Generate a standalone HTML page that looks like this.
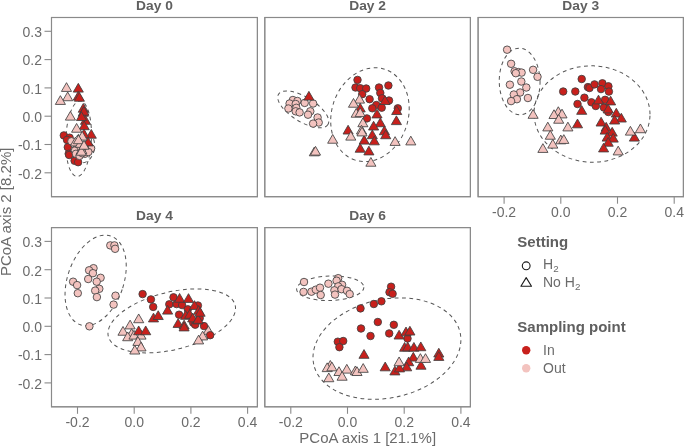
<!DOCTYPE html>
<html><head><meta charset="utf-8"><style>
html,body{margin:0;padding:0;background:#fff;}
svg{display:block;will-change:transform;}
text{font-family:"Liberation Sans",sans-serif;}
.strip{font-weight:bold;font-size:13.8px;fill:#606060;}
.tick{font-size:14px;fill:#6b6b6b;}
.atitle{font-size:15px;fill:#6b6b6b;}
.ltitle{font-weight:bold;font-size:15px;fill:#606060;}
.ltext{font-size:14px;fill:#6b6b6b;}
.sub{font-size:9.8px;}
</style></head><body>
<svg width="685" height="447" viewBox="0 0 685 447">
<rect width="685" height="447" fill="#fff"/>
<rect x="51.5" y="17.5" width="205.9" height="179.2" fill="#fff" stroke="#8a8a8a" stroke-width="1.1"/>
<text transform="translate(154.45 10.00) scale(1 0.92)" text-anchor="middle" class="strip">Day 0</text>
<line x1="44.50" y1="31.30" x2="51.50" y2="31.30" stroke="#8a8a8a" stroke-width="1.1"/>
<text x="42.00" y="37.10" text-anchor="end" class="tick">0.3</text>
<line x1="44.50" y1="59.60" x2="51.50" y2="59.60" stroke="#8a8a8a" stroke-width="1.1"/>
<text x="42.00" y="65.40" text-anchor="end" class="tick">0.2</text>
<line x1="44.50" y1="87.90" x2="51.50" y2="87.90" stroke="#8a8a8a" stroke-width="1.1"/>
<text x="42.00" y="93.70" text-anchor="end" class="tick">0.1</text>
<line x1="44.50" y1="116.20" x2="51.50" y2="116.20" stroke="#8a8a8a" stroke-width="1.1"/>
<text x="42.00" y="122.00" text-anchor="end" class="tick">0.0</text>
<line x1="44.50" y1="144.50" x2="51.50" y2="144.50" stroke="#8a8a8a" stroke-width="1.1"/>
<text x="42.00" y="150.30" text-anchor="end" class="tick">-0.1</text>
<line x1="44.50" y1="172.80" x2="51.50" y2="172.80" stroke="#8a8a8a" stroke-width="1.1"/>
<text x="42.00" y="178.60" text-anchor="end" class="tick">-0.2</text>
<rect x="264.8" y="17.5" width="205.6" height="179.2" fill="#fff" stroke="#8a8a8a" stroke-width="1.1"/>
<text transform="translate(367.60 10.00) scale(1 0.92)" text-anchor="middle" class="strip">Day 2</text>
<rect x="478.1" y="17.5" width="205.3" height="179.2" fill="#fff" stroke="#8a8a8a" stroke-width="1.1"/>
<text transform="translate(580.75 10.00) scale(1 0.92)" text-anchor="middle" class="strip">Day 3</text>
<line x1="504.10" y1="196.70" x2="504.10" y2="203.70" stroke="#8a8a8a" stroke-width="1.1"/>
<text x="504.10" y="216.70" text-anchor="middle" class="tick">-0.2</text>
<line x1="560.80" y1="196.70" x2="560.80" y2="203.70" stroke="#8a8a8a" stroke-width="1.1"/>
<text x="560.80" y="216.70" text-anchor="middle" class="tick">0.0</text>
<line x1="617.50" y1="196.70" x2="617.50" y2="203.70" stroke="#8a8a8a" stroke-width="1.1"/>
<text x="617.50" y="216.70" text-anchor="middle" class="tick">0.2</text>
<line x1="674.20" y1="196.70" x2="674.20" y2="203.70" stroke="#8a8a8a" stroke-width="1.1"/>
<text x="674.20" y="216.70" text-anchor="middle" class="tick">0.4</text>
<rect x="51.5" y="227.6" width="205.9" height="179.2" fill="#fff" stroke="#8a8a8a" stroke-width="1.1"/>
<text transform="translate(154.45 220.10) scale(1 0.92)" text-anchor="middle" class="strip">Day 4</text>
<line x1="77.50" y1="406.80" x2="77.50" y2="413.80" stroke="#8a8a8a" stroke-width="1.1"/>
<text x="77.50" y="426.80" text-anchor="middle" class="tick">-0.2</text>
<line x1="134.20" y1="406.80" x2="134.20" y2="413.80" stroke="#8a8a8a" stroke-width="1.1"/>
<text x="134.20" y="426.80" text-anchor="middle" class="tick">0.0</text>
<line x1="190.90" y1="406.80" x2="190.90" y2="413.80" stroke="#8a8a8a" stroke-width="1.1"/>
<text x="190.90" y="426.80" text-anchor="middle" class="tick">0.2</text>
<line x1="247.60" y1="406.80" x2="247.60" y2="413.80" stroke="#8a8a8a" stroke-width="1.1"/>
<text x="247.60" y="426.80" text-anchor="middle" class="tick">0.4</text>
<line x1="44.50" y1="241.40" x2="51.50" y2="241.40" stroke="#8a8a8a" stroke-width="1.1"/>
<text x="42.00" y="247.20" text-anchor="end" class="tick">0.3</text>
<line x1="44.50" y1="269.70" x2="51.50" y2="269.70" stroke="#8a8a8a" stroke-width="1.1"/>
<text x="42.00" y="275.50" text-anchor="end" class="tick">0.2</text>
<line x1="44.50" y1="298.00" x2="51.50" y2="298.00" stroke="#8a8a8a" stroke-width="1.1"/>
<text x="42.00" y="303.80" text-anchor="end" class="tick">0.1</text>
<line x1="44.50" y1="326.30" x2="51.50" y2="326.30" stroke="#8a8a8a" stroke-width="1.1"/>
<text x="42.00" y="332.10" text-anchor="end" class="tick">0.0</text>
<line x1="44.50" y1="354.60" x2="51.50" y2="354.60" stroke="#8a8a8a" stroke-width="1.1"/>
<text x="42.00" y="360.40" text-anchor="end" class="tick">-0.1</text>
<line x1="44.50" y1="382.90" x2="51.50" y2="382.90" stroke="#8a8a8a" stroke-width="1.1"/>
<text x="42.00" y="388.70" text-anchor="end" class="tick">-0.2</text>
<rect x="264.8" y="227.6" width="205.6" height="179.2" fill="#fff" stroke="#8a8a8a" stroke-width="1.1"/>
<text transform="translate(367.60 220.10) scale(1 0.92)" text-anchor="middle" class="strip">Day 6</text>
<line x1="290.80" y1="406.80" x2="290.80" y2="413.80" stroke="#8a8a8a" stroke-width="1.1"/>
<text x="290.80" y="426.80" text-anchor="middle" class="tick">-0.2</text>
<line x1="347.50" y1="406.80" x2="347.50" y2="413.80" stroke="#8a8a8a" stroke-width="1.1"/>
<text x="347.50" y="426.80" text-anchor="middle" class="tick">0.0</text>
<line x1="404.20" y1="406.80" x2="404.20" y2="413.80" stroke="#8a8a8a" stroke-width="1.1"/>
<text x="404.20" y="426.80" text-anchor="middle" class="tick">0.2</text>
<line x1="460.90" y1="406.80" x2="460.90" y2="413.80" stroke="#8a8a8a" stroke-width="1.1"/>
<text x="460.90" y="426.80" text-anchor="middle" class="tick">0.4</text>
<g>
<ellipse cx="78.6" cy="138.7" rx="12.8" ry="37.8" transform="rotate(2.5 78.6 138.7)" fill="none" stroke="#555" stroke-width="1" stroke-dasharray="3.8 3.5"/>
<ellipse cx="83.5" cy="147.5" rx="11" ry="15.5" transform="rotate(10 83.5 147.5)" fill="none" stroke="#555" stroke-width="1" stroke-dasharray="3.8 3.5"/>
<circle cx="63.80" cy="135.40" r="3.75" fill="#c8201c" stroke="#404040" stroke-width="0.85"/>
<circle cx="69.60" cy="137.70" r="3.75" fill="#c8201c" stroke="#404040" stroke-width="0.85"/>
<circle cx="67.00" cy="139.90" r="3.75" fill="#c8201c" stroke="#404040" stroke-width="0.85"/>
<circle cx="67.80" cy="147.20" r="3.75" fill="#c8201c" stroke="#404040" stroke-width="0.85"/>
<circle cx="68.70" cy="153.80" r="3.75" fill="#c8201c" stroke="#404040" stroke-width="0.85"/>
<circle cx="69.20" cy="155.00" r="3.75" fill="#c8201c" stroke="#404040" stroke-width="0.85"/>
<circle cx="74.60" cy="160.80" r="3.75" fill="#c8201c" stroke="#404040" stroke-width="0.85"/>
<circle cx="78.10" cy="162.20" r="3.75" fill="#c8201c" stroke="#404040" stroke-width="0.85"/>
<circle cx="71.40" cy="141.30" r="3.75" fill="#f3c3bf" stroke="#404040" stroke-width="0.85"/>
<circle cx="89.30" cy="146.60" r="3.75" fill="#f3c3bf" stroke="#404040" stroke-width="0.85"/>
<circle cx="91.10" cy="148.40" r="3.75" fill="#f3c3bf" stroke="#404040" stroke-width="0.85"/>
<circle cx="84.80" cy="147.50" r="3.75" fill="#f3c3bf" stroke="#404040" stroke-width="0.85"/>
<circle cx="75.90" cy="149.30" r="3.75" fill="#f3c3bf" stroke="#404040" stroke-width="0.85"/>
<circle cx="75.00" cy="150.50" r="3.75" fill="#f3c3bf" stroke="#404040" stroke-width="0.85"/>
<circle cx="75.90" cy="153.80" r="3.75" fill="#f3c3bf" stroke="#404040" stroke-width="0.85"/>
<circle cx="84.80" cy="153.80" r="3.75" fill="#f3c3bf" stroke="#404040" stroke-width="0.85"/>
<circle cx="88.40" cy="152.00" r="3.75" fill="#f3c3bf" stroke="#404040" stroke-width="0.85"/>
<circle cx="79.50" cy="155.90" r="3.75" fill="#f3c3bf" stroke="#404040" stroke-width="0.85"/>
<circle cx="82.20" cy="153.20" r="3.75" fill="#f3c3bf" stroke="#404040" stroke-width="0.85"/>
<circle cx="80.50" cy="147.00" r="3.75" fill="#f3c3bf" stroke="#404040" stroke-width="0.85"/>
<path d="M78.30 83.37L83.35 92.12L73.25 92.12Z" fill="#c8201c" stroke="#404040" stroke-width="0.85" stroke-linejoin="round"/>
<path d="M78.30 91.37L83.35 100.12L73.25 100.12Z" fill="#c8201c" stroke="#404040" stroke-width="0.85" stroke-linejoin="round"/>
<path d="M79.40 92.47L84.45 101.22L74.35 101.22Z" fill="#c8201c" stroke="#404040" stroke-width="0.85" stroke-linejoin="round"/>
<path d="M83.30 103.47L88.35 112.22L78.25 112.22Z" fill="#c8201c" stroke="#404040" stroke-width="0.85" stroke-linejoin="round"/>
<path d="M83.30 107.47L88.35 116.22L78.25 116.22Z" fill="#c8201c" stroke="#404040" stroke-width="0.85" stroke-linejoin="round"/>
<path d="M83.90 106.47L88.95 115.22L78.85 115.22Z" fill="#c8201c" stroke="#404040" stroke-width="0.85" stroke-linejoin="round"/>
<path d="M85.50 115.57L90.55 124.32L80.45 124.32Z" fill="#c8201c" stroke="#404040" stroke-width="0.85" stroke-linejoin="round"/>
<path d="M84.20 120.97L89.25 129.72L79.15 129.72Z" fill="#c8201c" stroke="#404040" stroke-width="0.85" stroke-linejoin="round"/>
<path d="M81.50 111.77L86.55 120.52L76.45 120.52Z" fill="#c8201c" stroke="#404040" stroke-width="0.85" stroke-linejoin="round"/>
<path d="M91.30 129.47L96.35 138.22L86.25 138.22Z" fill="#c8201c" stroke="#404040" stroke-width="0.85" stroke-linejoin="round"/>
<path d="M84.00 129.17L89.05 137.92L78.95 137.92Z" fill="#c8201c" stroke="#404040" stroke-width="0.85" stroke-linejoin="round"/>
<path d="M88.00 137.17L93.05 145.92L82.95 145.92Z" fill="#c8201c" stroke="#404040" stroke-width="0.85" stroke-linejoin="round"/>
<path d="M66.50 82.67L71.55 91.42L61.45 91.42Z" fill="#f3c3bf" stroke="#404040" stroke-width="0.85" stroke-linejoin="round"/>
<path d="M67.70 91.97L72.75 100.72L62.65 100.72Z" fill="#f3c3bf" stroke="#404040" stroke-width="0.85" stroke-linejoin="round"/>
<path d="M60.40 95.67L65.45 104.42L55.35 104.42Z" fill="#f3c3bf" stroke="#404040" stroke-width="0.85" stroke-linejoin="round"/>
<path d="M70.40 111.37L75.45 120.12L65.35 120.12Z" fill="#f3c3bf" stroke="#404040" stroke-width="0.85" stroke-linejoin="round"/>
<path d="M76.60 123.47L81.65 132.22L71.55 132.22Z" fill="#f3c3bf" stroke="#404040" stroke-width="0.85" stroke-linejoin="round"/>
<path d="M82.20 131.37L87.25 140.12L77.15 140.12Z" fill="#f3c3bf" stroke="#404040" stroke-width="0.85" stroke-linejoin="round"/>
<path d="M75.40 137.17L80.45 145.92L70.35 145.92Z" fill="#f3c3bf" stroke="#404040" stroke-width="0.85" stroke-linejoin="round"/>
<path d="M80.40 138.57L85.45 147.32L75.35 147.32Z" fill="#f3c3bf" stroke="#404040" stroke-width="0.85" stroke-linejoin="round"/>
<path d="M81.70 144.77L86.75 153.52L76.65 153.52Z" fill="#f3c3bf" stroke="#404040" stroke-width="0.85" stroke-linejoin="round"/>
<path d="M81.30 146.47L86.35 155.22L76.25 155.22Z" fill="#f3c3bf" stroke="#404040" stroke-width="0.85" stroke-linejoin="round"/>
<path d="M78.50 134.97L83.55 143.72L73.45 143.72Z" fill="#f3c3bf" stroke="#404040" stroke-width="0.85" stroke-linejoin="round"/>
<path d="M84.00 140.47L89.05 149.22L78.95 149.22Z" fill="#f3c3bf" stroke="#404040" stroke-width="0.85" stroke-linejoin="round"/>
</g>
<g>
<ellipse cx="303.25" cy="109.4" rx="29" ry="12.3" transform="rotate(31.6 303.25 109.4)" fill="none" stroke="#555" stroke-width="1" stroke-dasharray="3.8 3.5"/>
<ellipse cx="369.95" cy="114.7" rx="47.75" ry="38.25" transform="rotate(108 369.95 114.7)" fill="none" stroke="#555" stroke-width="1" stroke-dasharray="3.8 3.5"/>
<circle cx="292.90" cy="100.00" r="3.75" fill="#f3c3bf" stroke="#404040" stroke-width="0.85"/>
<circle cx="297.40" cy="101.00" r="3.75" fill="#f3c3bf" stroke="#404040" stroke-width="0.85"/>
<circle cx="289.60" cy="103.50" r="3.75" fill="#f3c3bf" stroke="#404040" stroke-width="0.85"/>
<circle cx="295.70" cy="104.00" r="3.75" fill="#f3c3bf" stroke="#404040" stroke-width="0.85"/>
<circle cx="304.70" cy="102.90" r="3.75" fill="#f3c3bf" stroke="#404040" stroke-width="0.85"/>
<circle cx="313.10" cy="103.50" r="3.75" fill="#f3c3bf" stroke="#404040" stroke-width="0.85"/>
<circle cx="288.40" cy="108.50" r="3.75" fill="#f3c3bf" stroke="#404040" stroke-width="0.85"/>
<circle cx="296.30" cy="107.80" r="3.75" fill="#f3c3bf" stroke="#404040" stroke-width="0.85"/>
<circle cx="295.70" cy="111.30" r="3.75" fill="#f3c3bf" stroke="#404040" stroke-width="0.85"/>
<circle cx="299.60" cy="112.40" r="3.75" fill="#f3c3bf" stroke="#404040" stroke-width="0.85"/>
<circle cx="310.30" cy="111.30" r="3.75" fill="#f3c3bf" stroke="#404040" stroke-width="0.85"/>
<circle cx="308.00" cy="114.70" r="3.75" fill="#f3c3bf" stroke="#404040" stroke-width="0.85"/>
<circle cx="317.60" cy="117.50" r="3.75" fill="#f3c3bf" stroke="#404040" stroke-width="0.85"/>
<circle cx="318.70" cy="122.50" r="3.75" fill="#f3c3bf" stroke="#404040" stroke-width="0.85"/>
<circle cx="313.10" cy="123.60" r="3.75" fill="#f3c3bf" stroke="#404040" stroke-width="0.85"/>
<path d="M308.90 91.37L313.95 100.12L303.85 100.12Z" fill="#c8201c" stroke="#404040" stroke-width="0.85" stroke-linejoin="round"/>
<circle cx="357.50" cy="79.90" r="3.75" fill="#c8201c" stroke="#404040" stroke-width="0.85"/>
<circle cx="355.50" cy="87.50" r="3.75" fill="#c8201c" stroke="#404040" stroke-width="0.85"/>
<circle cx="360.20" cy="88.20" r="3.75" fill="#c8201c" stroke="#404040" stroke-width="0.85"/>
<circle cx="366.20" cy="88.50" r="3.75" fill="#c8201c" stroke="#404040" stroke-width="0.85"/>
<circle cx="362.20" cy="94.20" r="3.75" fill="#c8201c" stroke="#404040" stroke-width="0.85"/>
<circle cx="379.00" cy="87.50" r="3.75" fill="#c8201c" stroke="#404040" stroke-width="0.85"/>
<circle cx="388.40" cy="85.50" r="3.75" fill="#c8201c" stroke="#404040" stroke-width="0.85"/>
<circle cx="380.30" cy="92.90" r="3.75" fill="#c8201c" stroke="#404040" stroke-width="0.85"/>
<circle cx="369.60" cy="99.20" r="3.75" fill="#c8201c" stroke="#404040" stroke-width="0.85"/>
<circle cx="389.00" cy="100.50" r="3.75" fill="#c8201c" stroke="#404040" stroke-width="0.85"/>
<circle cx="382.00" cy="98.30" r="3.75" fill="#c8201c" stroke="#404040" stroke-width="0.85"/>
<circle cx="376.30" cy="105.00" r="3.75" fill="#c8201c" stroke="#404040" stroke-width="0.85"/>
<circle cx="372.30" cy="108.30" r="3.75" fill="#c8201c" stroke="#404040" stroke-width="0.85"/>
<circle cx="381.70" cy="107.70" r="3.75" fill="#c8201c" stroke="#404040" stroke-width="0.85"/>
<circle cx="397.80" cy="108.30" r="3.75" fill="#c8201c" stroke="#404040" stroke-width="0.85"/>
<circle cx="366.90" cy="118.40" r="3.75" fill="#c8201c" stroke="#404040" stroke-width="0.85"/>
<path d="M385.00 95.77L390.05 104.52L379.95 104.52Z" fill="#c8201c" stroke="#404040" stroke-width="0.85" stroke-linejoin="round"/>
<path d="M377.00 109.17L382.05 117.92L371.95 117.92Z" fill="#c8201c" stroke="#404040" stroke-width="0.85" stroke-linejoin="round"/>
<path d="M396.70 105.77L401.75 114.52L391.65 114.52Z" fill="#c8201c" stroke="#404040" stroke-width="0.85" stroke-linejoin="round"/>
<path d="M360.20 103.17L365.25 111.92L355.15 111.92Z" fill="#c8201c" stroke="#404040" stroke-width="0.85" stroke-linejoin="round"/>
<path d="M396.40 115.87L401.45 124.62L391.35 124.62Z" fill="#c8201c" stroke="#404040" stroke-width="0.85" stroke-linejoin="round"/>
<path d="M380.30 117.97L385.35 126.72L375.25 126.72Z" fill="#c8201c" stroke="#404040" stroke-width="0.85" stroke-linejoin="round"/>
<path d="M373.60 121.27L378.65 130.02L368.55 130.02Z" fill="#c8201c" stroke="#404040" stroke-width="0.85" stroke-linejoin="round"/>
<path d="M348.10 125.27L353.15 134.02L343.05 134.02Z" fill="#c8201c" stroke="#404040" stroke-width="0.85" stroke-linejoin="round"/>
<path d="M384.40 125.97L389.45 134.72L379.35 134.72Z" fill="#c8201c" stroke="#404040" stroke-width="0.85" stroke-linejoin="round"/>
<path d="M372.30 129.97L377.35 138.72L367.25 138.72Z" fill="#c8201c" stroke="#404040" stroke-width="0.85" stroke-linejoin="round"/>
<path d="M385.70 129.97L390.75 138.72L380.65 138.72Z" fill="#c8201c" stroke="#404040" stroke-width="0.85" stroke-linejoin="round"/>
<path d="M364.20 135.37L369.25 144.12L359.15 144.12Z" fill="#c8201c" stroke="#404040" stroke-width="0.85" stroke-linejoin="round"/>
<path d="M374.30 136.07L379.35 144.82L369.25 144.82Z" fill="#c8201c" stroke="#404040" stroke-width="0.85" stroke-linejoin="round"/>
<path d="M360.20 143.47L365.25 152.22L355.15 152.22Z" fill="#c8201c" stroke="#404040" stroke-width="0.85" stroke-linejoin="round"/>
<path d="M368.90 146.17L373.95 154.92L363.85 154.92Z" fill="#c8201c" stroke="#404040" stroke-width="0.85" stroke-linejoin="round"/>
<path d="M359.50 94.37L364.55 103.12L354.45 103.12Z" fill="#f3c3bf" stroke="#404040" stroke-width="0.85" stroke-linejoin="round"/>
<path d="M353.50 98.47L358.55 107.22L348.45 107.22Z" fill="#f3c3bf" stroke="#404040" stroke-width="0.85" stroke-linejoin="round"/>
<path d="M356.20 108.47L361.25 117.22L351.15 117.22Z" fill="#f3c3bf" stroke="#404040" stroke-width="0.85" stroke-linejoin="round"/>
<path d="M360.20 107.87L365.25 116.62L355.15 116.62Z" fill="#f3c3bf" stroke="#404040" stroke-width="0.85" stroke-linejoin="round"/>
<path d="M362.90 117.97L367.95 126.72L357.85 126.72Z" fill="#f3c3bf" stroke="#404040" stroke-width="0.85" stroke-linejoin="round"/>
<path d="M361.50 125.27L366.55 134.02L356.45 134.02Z" fill="#f3c3bf" stroke="#404040" stroke-width="0.85" stroke-linejoin="round"/>
<path d="M362.00 127.17L367.05 135.92L356.95 135.92Z" fill="#f3c3bf" stroke="#404040" stroke-width="0.85" stroke-linejoin="round"/>
<path d="M350.80 131.37L355.85 140.12L345.75 140.12Z" fill="#f3c3bf" stroke="#404040" stroke-width="0.85" stroke-linejoin="round"/>
<path d="M395.10 136.67L400.15 145.42L390.05 145.42Z" fill="#f3c3bf" stroke="#404040" stroke-width="0.85" stroke-linejoin="round"/>
<path d="M332.70 134.47L337.75 143.22L327.65 143.22Z" fill="#f3c3bf" stroke="#404040" stroke-width="0.85" stroke-linejoin="round"/>
<path d="M370.90 157.47L375.95 166.22L365.85 166.22Z" fill="#f3c3bf" stroke="#404040" stroke-width="0.85" stroke-linejoin="round"/>
<path d="M410.80 136.17L415.85 144.92L405.75 144.92Z" fill="#f3c3bf" stroke="#404040" stroke-width="0.85" stroke-linejoin="round"/>
<path d="M314.30 147.07L319.35 155.82L309.25 155.82Z" fill="#f3c3bf" stroke="#404040" stroke-width="0.85" stroke-linejoin="round"/>
<path d="M315.50 146.37L320.55 155.12L310.45 155.12Z" fill="#f3c3bf" stroke="#404040" stroke-width="0.85" stroke-linejoin="round"/>
</g>
<g>
<ellipse cx="519.65" cy="81.5" rx="20.4" ry="33.35" transform="rotate(-1 519.65 81.5)" fill="none" stroke="#555" stroke-width="1" stroke-dasharray="3.8 3.5"/>
<ellipse cx="592" cy="114" rx="58" ry="48.2" transform="rotate(1.7 592 114)" fill="none" stroke="#555" stroke-width="1" stroke-dasharray="3.8 3.5"/>
<circle cx="507.10" cy="49.70" r="3.75" fill="#f3c3bf" stroke="#404040" stroke-width="0.85"/>
<circle cx="511.10" cy="63.80" r="3.75" fill="#f3c3bf" stroke="#404040" stroke-width="0.85"/>
<circle cx="514.60" cy="71.30" r="3.75" fill="#f3c3bf" stroke="#404040" stroke-width="0.85"/>
<circle cx="518.50" cy="72.10" r="3.75" fill="#f3c3bf" stroke="#404040" stroke-width="0.85"/>
<circle cx="521.60" cy="72.60" r="3.75" fill="#f3c3bf" stroke="#404040" stroke-width="0.85"/>
<circle cx="515.80" cy="73.20" r="3.75" fill="#f3c3bf" stroke="#404040" stroke-width="0.85"/>
<circle cx="533.10" cy="69.80" r="3.75" fill="#f3c3bf" stroke="#404040" stroke-width="0.85"/>
<circle cx="537.50" cy="76.80" r="3.75" fill="#f3c3bf" stroke="#404040" stroke-width="0.85"/>
<circle cx="509.90" cy="84.70" r="3.75" fill="#f3c3bf" stroke="#404040" stroke-width="0.85"/>
<circle cx="521.30" cy="81.50" r="3.75" fill="#f3c3bf" stroke="#404040" stroke-width="0.85"/>
<circle cx="526.30" cy="87.50" r="3.75" fill="#f3c3bf" stroke="#404040" stroke-width="0.85"/>
<circle cx="520.10" cy="92.50" r="3.75" fill="#f3c3bf" stroke="#404040" stroke-width="0.85"/>
<circle cx="513.80" cy="94.50" r="3.75" fill="#f3c3bf" stroke="#404040" stroke-width="0.85"/>
<circle cx="516.90" cy="99.20" r="3.75" fill="#f3c3bf" stroke="#404040" stroke-width="0.85"/>
<circle cx="511.10" cy="101.10" r="3.75" fill="#f3c3bf" stroke="#404040" stroke-width="0.85"/>
<circle cx="527.90" cy="98.00" r="3.75" fill="#f3c3bf" stroke="#404040" stroke-width="0.85"/>
<circle cx="563.20" cy="91.50" r="3.75" fill="#c8201c" stroke="#404040" stroke-width="0.85"/>
<circle cx="575.30" cy="91.50" r="3.75" fill="#c8201c" stroke="#404040" stroke-width="0.85"/>
<circle cx="581.70" cy="79.00" r="3.75" fill="#c8201c" stroke="#404040" stroke-width="0.85"/>
<circle cx="587.90" cy="87.10" r="3.75" fill="#c8201c" stroke="#404040" stroke-width="0.85"/>
<circle cx="589.50" cy="88.00" r="3.75" fill="#c8201c" stroke="#404040" stroke-width="0.85"/>
<circle cx="594.50" cy="84.40" r="3.75" fill="#c8201c" stroke="#404040" stroke-width="0.85"/>
<circle cx="602.40" cy="83.30" r="3.75" fill="#c8201c" stroke="#404040" stroke-width="0.85"/>
<circle cx="608.40" cy="86.30" r="3.75" fill="#c8201c" stroke="#404040" stroke-width="0.85"/>
<circle cx="601.00" cy="89.10" r="3.75" fill="#c8201c" stroke="#404040" stroke-width="0.85"/>
<circle cx="608.90" cy="91.60" r="3.75" fill="#c8201c" stroke="#404040" stroke-width="0.85"/>
<circle cx="584.40" cy="97.70" r="3.75" fill="#c8201c" stroke="#404040" stroke-width="0.85"/>
<circle cx="577.50" cy="104.00" r="3.75" fill="#c8201c" stroke="#404040" stroke-width="0.85"/>
<circle cx="591.40" cy="102.30" r="3.75" fill="#c8201c" stroke="#404040" stroke-width="0.85"/>
<circle cx="595.80" cy="106.00" r="3.75" fill="#c8201c" stroke="#404040" stroke-width="0.85"/>
<circle cx="605.10" cy="99.80" r="3.75" fill="#c8201c" stroke="#404040" stroke-width="0.85"/>
<circle cx="603.90" cy="107.60" r="3.75" fill="#c8201c" stroke="#404040" stroke-width="0.85"/>
<circle cx="608.30" cy="112.00" r="3.75" fill="#c8201c" stroke="#404040" stroke-width="0.85"/>
<path d="M581.70 105.57L586.75 114.32L576.65 114.32Z" fill="#c8201c" stroke="#404040" stroke-width="0.85" stroke-linejoin="round"/>
<path d="M577.50 119.07L582.55 127.82L572.45 127.82Z" fill="#c8201c" stroke="#404040" stroke-width="0.85" stroke-linejoin="round"/>
<path d="M598.50 95.17L603.55 103.92L593.45 103.92Z" fill="#c8201c" stroke="#404040" stroke-width="0.85" stroke-linejoin="round"/>
<path d="M610.60 96.17L615.65 104.92L605.55 104.92Z" fill="#c8201c" stroke="#404040" stroke-width="0.85" stroke-linejoin="round"/>
<path d="M608.20 104.17L613.25 112.92L603.15 112.92Z" fill="#c8201c" stroke="#404040" stroke-width="0.85" stroke-linejoin="round"/>
<path d="M616.30 108.27L621.35 117.02L611.25 117.02Z" fill="#c8201c" stroke="#404040" stroke-width="0.85" stroke-linejoin="round"/>
<path d="M621.30 113.27L626.35 122.02L616.25 122.02Z" fill="#c8201c" stroke="#404040" stroke-width="0.85" stroke-linejoin="round"/>
<path d="M614.60 115.27L619.65 124.02L609.55 124.02Z" fill="#c8201c" stroke="#404040" stroke-width="0.85" stroke-linejoin="round"/>
<path d="M601.10 117.27L606.15 126.02L596.05 126.02Z" fill="#c8201c" stroke="#404040" stroke-width="0.85" stroke-linejoin="round"/>
<path d="M606.20 122.37L611.25 131.12L601.15 131.12Z" fill="#c8201c" stroke="#404040" stroke-width="0.85" stroke-linejoin="round"/>
<path d="M605.20 125.37L610.25 134.12L600.15 134.12Z" fill="#c8201c" stroke="#404040" stroke-width="0.85" stroke-linejoin="round"/>
<path d="M612.20 127.37L617.25 136.12L607.15 136.12Z" fill="#c8201c" stroke="#404040" stroke-width="0.85" stroke-linejoin="round"/>
<path d="M607.20 132.37L612.25 141.12L602.15 141.12Z" fill="#c8201c" stroke="#404040" stroke-width="0.85" stroke-linejoin="round"/>
<path d="M613.20 133.37L618.25 142.12L608.15 142.12Z" fill="#c8201c" stroke="#404040" stroke-width="0.85" stroke-linejoin="round"/>
<path d="M608.20 137.47L613.25 146.22L603.15 146.22Z" fill="#c8201c" stroke="#404040" stroke-width="0.85" stroke-linejoin="round"/>
<path d="M603.60 143.17L608.65 151.92L598.55 151.92Z" fill="#c8201c" stroke="#404040" stroke-width="0.85" stroke-linejoin="round"/>
<path d="M634.40 132.37L639.45 141.12L629.35 141.12Z" fill="#c8201c" stroke="#404040" stroke-width="0.85" stroke-linejoin="round"/>
<path d="M533.10 109.57L538.15 118.32L528.05 118.32Z" fill="#f3c3bf" stroke="#404040" stroke-width="0.85" stroke-linejoin="round"/>
<path d="M558.30 106.77L563.35 115.52L553.25 115.52Z" fill="#f3c3bf" stroke="#404040" stroke-width="0.85" stroke-linejoin="round"/>
<path d="M554.00 109.77L559.05 118.52L548.95 118.52Z" fill="#f3c3bf" stroke="#404040" stroke-width="0.85" stroke-linejoin="round"/>
<path d="M562.00 109.17L567.05 117.92L556.95 117.92Z" fill="#f3c3bf" stroke="#404040" stroke-width="0.85" stroke-linejoin="round"/>
<path d="M558.70 114.47L563.75 123.22L553.65 123.22Z" fill="#f3c3bf" stroke="#404040" stroke-width="0.85" stroke-linejoin="round"/>
<path d="M547.80 122.17L552.85 130.92L542.75 130.92Z" fill="#f3c3bf" stroke="#404040" stroke-width="0.85" stroke-linejoin="round"/>
<path d="M567.90 122.17L572.95 130.92L562.85 130.92Z" fill="#f3c3bf" stroke="#404040" stroke-width="0.85" stroke-linejoin="round"/>
<path d="M550.30 130.47L555.35 139.22L545.25 139.22Z" fill="#f3c3bf" stroke="#404040" stroke-width="0.85" stroke-linejoin="round"/>
<path d="M560.80 135.07L565.85 143.82L555.75 143.82Z" fill="#f3c3bf" stroke="#404040" stroke-width="0.85" stroke-linejoin="round"/>
<path d="M563.80 134.67L568.85 143.42L558.75 143.42Z" fill="#f3c3bf" stroke="#404040" stroke-width="0.85" stroke-linejoin="round"/>
<path d="M552.80 139.37L557.85 148.12L547.75 148.12Z" fill="#f3c3bf" stroke="#404040" stroke-width="0.85" stroke-linejoin="round"/>
<path d="M542.90 143.67L547.95 152.42L537.85 152.42Z" fill="#f3c3bf" stroke="#404040" stroke-width="0.85" stroke-linejoin="round"/>
<path d="M630.40 126.37L635.45 135.12L625.35 135.12Z" fill="#f3c3bf" stroke="#404040" stroke-width="0.85" stroke-linejoin="round"/>
<path d="M640.40 123.97L645.45 132.72L635.35 132.72Z" fill="#f3c3bf" stroke="#404040" stroke-width="0.85" stroke-linejoin="round"/>
<path d="M618.20 146.17L623.25 154.92L613.15 154.92Z" fill="#f3c3bf" stroke="#404040" stroke-width="0.85" stroke-linejoin="round"/>
</g>
<g>
<ellipse cx="95.64" cy="280.4" rx="28.07" ry="46.92" transform="rotate(18.9 95.64 280.4)" fill="none" stroke="#555" stroke-width="1" stroke-dasharray="3.8 3.5"/>
<ellipse cx="171.76" cy="320.89" rx="65.32" ry="28.79" transform="rotate(-13.8 171.76 320.89)" fill="none" stroke="#555" stroke-width="1" stroke-dasharray="3.8 3.5"/>
<circle cx="110.30" cy="245.40" r="3.75" fill="#f3c3bf" stroke="#404040" stroke-width="0.85"/>
<circle cx="114.40" cy="245.40" r="3.75" fill="#f3c3bf" stroke="#404040" stroke-width="0.85"/>
<circle cx="115.10" cy="248.80" r="3.75" fill="#f3c3bf" stroke="#404040" stroke-width="0.85"/>
<circle cx="93.50" cy="268.20" r="3.75" fill="#f3c3bf" stroke="#404040" stroke-width="0.85"/>
<circle cx="89.10" cy="270.30" r="3.75" fill="#f3c3bf" stroke="#404040" stroke-width="0.85"/>
<circle cx="92.90" cy="273.20" r="3.75" fill="#f3c3bf" stroke="#404040" stroke-width="0.85"/>
<circle cx="88.20" cy="279.00" r="3.75" fill="#f3c3bf" stroke="#404040" stroke-width="0.85"/>
<circle cx="100.60" cy="277.80" r="3.75" fill="#f3c3bf" stroke="#404040" stroke-width="0.85"/>
<circle cx="96.70" cy="281.70" r="3.75" fill="#f3c3bf" stroke="#404040" stroke-width="0.85"/>
<circle cx="73.10" cy="281.70" r="3.75" fill="#f3c3bf" stroke="#404040" stroke-width="0.85"/>
<circle cx="77.10" cy="285.10" r="3.75" fill="#f3c3bf" stroke="#404040" stroke-width="0.85"/>
<circle cx="99.30" cy="288.80" r="3.75" fill="#f3c3bf" stroke="#404040" stroke-width="0.85"/>
<circle cx="95.20" cy="290.60" r="3.75" fill="#f3c3bf" stroke="#404040" stroke-width="0.85"/>
<circle cx="96.90" cy="297.10" r="3.75" fill="#f3c3bf" stroke="#404040" stroke-width="0.85"/>
<circle cx="77.80" cy="293.20" r="3.75" fill="#f3c3bf" stroke="#404040" stroke-width="0.85"/>
<circle cx="115.50" cy="295.70" r="3.75" fill="#f3c3bf" stroke="#404040" stroke-width="0.85"/>
<circle cx="113.60" cy="304.60" r="3.75" fill="#f3c3bf" stroke="#404040" stroke-width="0.85"/>
<circle cx="89.40" cy="326.30" r="3.75" fill="#f3c3bf" stroke="#404040" stroke-width="0.85"/>
<path d="M138.70 313.97L143.75 322.72L133.65 322.72Z" fill="#f3c3bf" stroke="#404040" stroke-width="0.85" stroke-linejoin="round"/>
<path d="M130.10 320.17L135.15 328.92L125.05 328.92Z" fill="#f3c3bf" stroke="#404040" stroke-width="0.85" stroke-linejoin="round"/>
<path d="M123.00 326.47L128.05 335.22L117.95 335.22Z" fill="#f3c3bf" stroke="#404040" stroke-width="0.85" stroke-linejoin="round"/>
<path d="M131.60 328.77L136.65 337.52L126.55 337.52Z" fill="#f3c3bf" stroke="#404040" stroke-width="0.85" stroke-linejoin="round"/>
<path d="M127.70 331.97L132.75 340.72L122.65 340.72Z" fill="#f3c3bf" stroke="#404040" stroke-width="0.85" stroke-linejoin="round"/>
<path d="M134.00 330.37L139.05 339.12L128.95 339.12Z" fill="#f3c3bf" stroke="#404040" stroke-width="0.85" stroke-linejoin="round"/>
<path d="M141.00 330.37L146.05 339.12L135.95 339.12Z" fill="#f3c3bf" stroke="#404040" stroke-width="0.85" stroke-linejoin="round"/>
<path d="M137.90 336.67L142.95 345.42L132.85 345.42Z" fill="#f3c3bf" stroke="#404040" stroke-width="0.85" stroke-linejoin="round"/>
<path d="M141.00 342.17L146.05 350.92L135.95 350.92Z" fill="#f3c3bf" stroke="#404040" stroke-width="0.85" stroke-linejoin="round"/>
<path d="M134.80 345.27L139.85 354.02L129.75 354.02Z" fill="#f3c3bf" stroke="#404040" stroke-width="0.85" stroke-linejoin="round"/>
<path d="M208.20 325.57L213.25 334.32L203.15 334.32Z" fill="#f3c3bf" stroke="#404040" stroke-width="0.85" stroke-linejoin="round"/>
<path d="M202.60 331.17L207.65 339.92L197.55 339.92Z" fill="#f3c3bf" stroke="#404040" stroke-width="0.85" stroke-linejoin="round"/>
<path d="M198.60 335.17L203.65 343.92L193.55 343.92Z" fill="#f3c3bf" stroke="#404040" stroke-width="0.85" stroke-linejoin="round"/>
<circle cx="142.60" cy="294.10" r="3.75" fill="#c8201c" stroke="#404040" stroke-width="0.85"/>
<circle cx="150.90" cy="299.40" r="3.75" fill="#c8201c" stroke="#404040" stroke-width="0.85"/>
<circle cx="153.20" cy="306.90" r="3.75" fill="#c8201c" stroke="#404040" stroke-width="0.85"/>
<circle cx="173.50" cy="297.30" r="3.75" fill="#c8201c" stroke="#404040" stroke-width="0.85"/>
<circle cx="169.30" cy="304.30" r="3.75" fill="#c8201c" stroke="#404040" stroke-width="0.85"/>
<circle cx="176.60" cy="304.10" r="3.75" fill="#c8201c" stroke="#404040" stroke-width="0.85"/>
<circle cx="182.10" cy="305.10" r="3.75" fill="#c8201c" stroke="#404040" stroke-width="0.85"/>
<circle cx="179.10" cy="314.70" r="3.75" fill="#c8201c" stroke="#404040" stroke-width="0.85"/>
<circle cx="197.90" cy="305.50" r="3.75" fill="#c8201c" stroke="#404040" stroke-width="0.85"/>
<circle cx="193.20" cy="322.70" r="3.75" fill="#c8201c" stroke="#404040" stroke-width="0.85"/>
<circle cx="195.20" cy="324.70" r="3.75" fill="#c8201c" stroke="#404040" stroke-width="0.85"/>
<circle cx="199.70" cy="318.20" r="3.75" fill="#c8201c" stroke="#404040" stroke-width="0.85"/>
<circle cx="204.00" cy="326.10" r="3.75" fill="#c8201c" stroke="#404040" stroke-width="0.85"/>
<circle cx="187.80" cy="309.30" r="3.75" fill="#c8201c" stroke="#404040" stroke-width="0.85"/>
<circle cx="210.20" cy="335.20" r="3.75" fill="#c8201c" stroke="#404040" stroke-width="0.85"/>
<path d="M153.50 313.17L158.55 321.92L148.45 321.92Z" fill="#c8201c" stroke="#404040" stroke-width="0.85" stroke-linejoin="round"/>
<path d="M158.20 310.77L163.25 319.52L153.15 319.52Z" fill="#c8201c" stroke="#404040" stroke-width="0.85" stroke-linejoin="round"/>
<path d="M167.60 305.37L172.65 314.12L162.55 314.12Z" fill="#c8201c" stroke="#404040" stroke-width="0.85" stroke-linejoin="round"/>
<path d="M138.70 325.97L143.75 334.72L133.65 334.72Z" fill="#c8201c" stroke="#404040" stroke-width="0.85" stroke-linejoin="round"/>
<path d="M145.70 325.97L150.75 334.72L140.65 334.72Z" fill="#c8201c" stroke="#404040" stroke-width="0.85" stroke-linejoin="round"/>
<path d="M179.60 293.47L184.65 302.22L174.55 302.22Z" fill="#c8201c" stroke="#404040" stroke-width="0.85" stroke-linejoin="round"/>
<path d="M188.50 293.67L193.55 302.42L183.45 302.42Z" fill="#c8201c" stroke="#404040" stroke-width="0.85" stroke-linejoin="round"/>
<path d="M194.50 300.67L199.55 309.42L189.45 309.42Z" fill="#c8201c" stroke="#404040" stroke-width="0.85" stroke-linejoin="round"/>
<path d="M198.70 305.57L203.75 314.32L193.65 314.32Z" fill="#c8201c" stroke="#404040" stroke-width="0.85" stroke-linejoin="round"/>
<path d="M185.60 310.57L190.65 319.32L180.55 319.32Z" fill="#c8201c" stroke="#404040" stroke-width="0.85" stroke-linejoin="round"/>
<path d="M189.70 309.57L194.75 318.32L184.65 318.32Z" fill="#c8201c" stroke="#404040" stroke-width="0.85" stroke-linejoin="round"/>
<path d="M192.70 313.17L197.75 321.92L187.65 321.92Z" fill="#c8201c" stroke="#404040" stroke-width="0.85" stroke-linejoin="round"/>
<path d="M197.70 315.17L202.75 323.92L192.65 323.92Z" fill="#c8201c" stroke="#404040" stroke-width="0.85" stroke-linejoin="round"/>
<path d="M178.10 318.67L183.15 327.42L173.05 327.42Z" fill="#c8201c" stroke="#404040" stroke-width="0.85" stroke-linejoin="round"/>
<path d="M184.10 320.17L189.15 328.92L179.05 328.92Z" fill="#c8201c" stroke="#404040" stroke-width="0.85" stroke-linejoin="round"/>
<path d="M184.10 322.17L189.15 330.92L179.05 330.92Z" fill="#c8201c" stroke="#404040" stroke-width="0.85" stroke-linejoin="round"/>
<path d="M198.10 314.57L203.15 323.32L193.05 323.32Z" fill="#c8201c" stroke="#404040" stroke-width="0.85" stroke-linejoin="round"/>
<path d="M200.10 307.47L205.15 316.22L195.05 316.22Z" fill="#c8201c" stroke="#404040" stroke-width="0.85" stroke-linejoin="round"/>
</g>
<g>
<ellipse cx="330.24" cy="288.22" rx="33.63" ry="12.26" transform="rotate(-1.8 330.24 288.22)" fill="none" stroke="#555" stroke-width="1" stroke-dasharray="3.8 3.5"/>
<ellipse cx="386.94" cy="348.6" rx="74.9" ry="49.3" transform="rotate(167.8 386.94 348.6)" fill="none" stroke="#555" stroke-width="1" stroke-dasharray="3.8 3.5"/>
<circle cx="304.00" cy="282.00" r="3.75" fill="#f3c3bf" stroke="#404040" stroke-width="0.85"/>
<circle cx="303.50" cy="291.90" r="3.75" fill="#f3c3bf" stroke="#404040" stroke-width="0.85"/>
<circle cx="311.40" cy="291.70" r="3.75" fill="#f3c3bf" stroke="#404040" stroke-width="0.85"/>
<circle cx="315.80" cy="289.70" r="3.75" fill="#f3c3bf" stroke="#404040" stroke-width="0.85"/>
<circle cx="320.00" cy="287.70" r="3.75" fill="#f3c3bf" stroke="#404040" stroke-width="0.85"/>
<circle cx="320.70" cy="295.00" r="3.75" fill="#f3c3bf" stroke="#404040" stroke-width="0.85"/>
<circle cx="328.40" cy="283.70" r="3.75" fill="#f3c3bf" stroke="#404040" stroke-width="0.85"/>
<circle cx="338.20" cy="278.20" r="3.75" fill="#f3c3bf" stroke="#404040" stroke-width="0.85"/>
<circle cx="336.60" cy="280.70" r="3.75" fill="#f3c3bf" stroke="#404040" stroke-width="0.85"/>
<circle cx="342.10" cy="284.80" r="3.75" fill="#f3c3bf" stroke="#404040" stroke-width="0.85"/>
<circle cx="338.20" cy="286.40" r="3.75" fill="#f3c3bf" stroke="#404040" stroke-width="0.85"/>
<circle cx="334.40" cy="290.30" r="3.75" fill="#f3c3bf" stroke="#404040" stroke-width="0.85"/>
<circle cx="335.00" cy="294.60" r="3.75" fill="#f3c3bf" stroke="#404040" stroke-width="0.85"/>
<circle cx="341.50" cy="289.20" r="3.75" fill="#f3c3bf" stroke="#404040" stroke-width="0.85"/>
<circle cx="347.00" cy="290.80" r="3.75" fill="#f3c3bf" stroke="#404040" stroke-width="0.85"/>
<circle cx="349.70" cy="294.10" r="3.75" fill="#f3c3bf" stroke="#404040" stroke-width="0.85"/>
<circle cx="391.10" cy="286.70" r="3.75" fill="#c8201c" stroke="#404040" stroke-width="0.85"/>
<circle cx="389.50" cy="292.20" r="3.75" fill="#c8201c" stroke="#404040" stroke-width="0.85"/>
<circle cx="392.60" cy="293.80" r="3.75" fill="#c8201c" stroke="#404040" stroke-width="0.85"/>
<circle cx="381.40" cy="301.30" r="3.75" fill="#c8201c" stroke="#404040" stroke-width="0.85"/>
<circle cx="373.80" cy="304.00" r="3.75" fill="#c8201c" stroke="#404040" stroke-width="0.85"/>
<circle cx="360.50" cy="308.40" r="3.75" fill="#c8201c" stroke="#404040" stroke-width="0.85"/>
<circle cx="377.80" cy="322.00" r="3.75" fill="#c8201c" stroke="#404040" stroke-width="0.85"/>
<circle cx="361.00" cy="328.50" r="3.75" fill="#c8201c" stroke="#404040" stroke-width="0.85"/>
<circle cx="393.80" cy="324.80" r="3.75" fill="#c8201c" stroke="#404040" stroke-width="0.85"/>
<circle cx="370.50" cy="336.00" r="3.75" fill="#c8201c" stroke="#404040" stroke-width="0.85"/>
<circle cx="389.20" cy="333.40" r="3.75" fill="#c8201c" stroke="#404040" stroke-width="0.85"/>
<circle cx="337.80" cy="341.70" r="3.75" fill="#c8201c" stroke="#404040" stroke-width="0.85"/>
<circle cx="343.20" cy="341.00" r="3.75" fill="#c8201c" stroke="#404040" stroke-width="0.85"/>
<circle cx="339.40" cy="347.20" r="3.75" fill="#c8201c" stroke="#404040" stroke-width="0.85"/>
<circle cx="407.50" cy="338.50" r="3.75" fill="#c8201c" stroke="#404040" stroke-width="0.85"/>
<path d="M399.10 330.27L404.15 339.02L394.05 339.02Z" fill="#c8201c" stroke="#404040" stroke-width="0.85" stroke-linejoin="round"/>
<path d="M406.00 327.07L411.05 335.82L400.95 335.82Z" fill="#c8201c" stroke="#404040" stroke-width="0.85" stroke-linejoin="round"/>
<path d="M409.90 326.27L414.95 335.02L404.85 335.02Z" fill="#c8201c" stroke="#404040" stroke-width="0.85" stroke-linejoin="round"/>
<path d="M404.60 342.47L409.65 351.22L399.55 351.22Z" fill="#c8201c" stroke="#404040" stroke-width="0.85" stroke-linejoin="round"/>
<path d="M407.70 342.17L412.75 350.92L402.65 350.92Z" fill="#c8201c" stroke="#404040" stroke-width="0.85" stroke-linejoin="round"/>
<path d="M413.90 342.47L418.95 351.22L408.85 351.22Z" fill="#c8201c" stroke="#404040" stroke-width="0.85" stroke-linejoin="round"/>
<path d="M420.80 341.97L425.85 350.72L415.75 350.72Z" fill="#c8201c" stroke="#404040" stroke-width="0.85" stroke-linejoin="round"/>
<path d="M438.80 348.27L443.85 357.02L433.75 357.02Z" fill="#c8201c" stroke="#404040" stroke-width="0.85" stroke-linejoin="round"/>
<path d="M438.80 351.67L443.85 360.42L433.75 360.42Z" fill="#c8201c" stroke="#404040" stroke-width="0.85" stroke-linejoin="round"/>
<path d="M413.30 352.37L418.35 361.12L408.25 361.12Z" fill="#c8201c" stroke="#404040" stroke-width="0.85" stroke-linejoin="round"/>
<path d="M408.70 356.97L413.75 365.72L403.65 365.72Z" fill="#c8201c" stroke="#404040" stroke-width="0.85" stroke-linejoin="round"/>
<path d="M406.70 362.07L411.75 370.82L401.65 370.82Z" fill="#c8201c" stroke="#404040" stroke-width="0.85" stroke-linejoin="round"/>
<path d="M385.20 362.07L390.25 370.82L380.15 370.82Z" fill="#c8201c" stroke="#404040" stroke-width="0.85" stroke-linejoin="round"/>
<path d="M394.90 366.17L399.95 374.92L389.85 374.92Z" fill="#c8201c" stroke="#404040" stroke-width="0.85" stroke-linejoin="round"/>
<path d="M399.50 363.17L404.55 371.92L394.45 371.92Z" fill="#c8201c" stroke="#404040" stroke-width="0.85" stroke-linejoin="round"/>
<path d="M421.00 360.47L426.05 369.22L415.95 369.22Z" fill="#c8201c" stroke="#404040" stroke-width="0.85" stroke-linejoin="round"/>
<path d="M364.00 349.57L369.05 358.32L358.95 358.32Z" fill="#c8201c" stroke="#404040" stroke-width="0.85" stroke-linejoin="round"/>
<path d="M399.10 356.97L404.15 365.72L394.05 365.72Z" fill="#f3c3bf" stroke="#404040" stroke-width="0.85" stroke-linejoin="round"/>
<path d="M420.40 353.67L425.45 362.42L415.35 362.42Z" fill="#f3c3bf" stroke="#404040" stroke-width="0.85" stroke-linejoin="round"/>
<path d="M425.50 353.67L430.55 362.42L420.45 362.42Z" fill="#f3c3bf" stroke="#404040" stroke-width="0.85" stroke-linejoin="round"/>
<path d="M330.30 360.47L335.35 369.22L325.25 369.22Z" fill="#f3c3bf" stroke="#404040" stroke-width="0.85" stroke-linejoin="round"/>
<path d="M327.20 362.87L332.25 371.62L322.15 371.62Z" fill="#f3c3bf" stroke="#404040" stroke-width="0.85" stroke-linejoin="round"/>
<path d="M331.90 362.07L336.95 370.82L326.85 370.82Z" fill="#f3c3bf" stroke="#404040" stroke-width="0.85" stroke-linejoin="round"/>
<path d="M339.00 366.77L344.05 375.52L333.95 375.52Z" fill="#f3c3bf" stroke="#404040" stroke-width="0.85" stroke-linejoin="round"/>
<path d="M346.80 364.37L351.85 373.12L341.75 373.12Z" fill="#f3c3bf" stroke="#404040" stroke-width="0.85" stroke-linejoin="round"/>
<path d="M342.10 371.47L347.15 380.22L337.05 380.22Z" fill="#f3c3bf" stroke="#404040" stroke-width="0.85" stroke-linejoin="round"/>
<path d="M328.80 372.97L333.85 381.72L323.75 381.72Z" fill="#f3c3bf" stroke="#404040" stroke-width="0.85" stroke-linejoin="round"/>
<path d="M355.40 365.97L360.45 374.72L350.35 374.72Z" fill="#f3c3bf" stroke="#404040" stroke-width="0.85" stroke-linejoin="round"/>
<path d="M357.00 366.77L362.05 375.52L351.95 375.52Z" fill="#f3c3bf" stroke="#404040" stroke-width="0.85" stroke-linejoin="round"/>
<path d="M363.20 363.57L368.25 372.32L358.15 372.32Z" fill="#f3c3bf" stroke="#404040" stroke-width="0.85" stroke-linejoin="round"/>
</g>
<rect x="51.5" y="17.5" width="205.9" height="179.2" fill="none" stroke="#8a8a8a" stroke-width="1.1"/>
<rect x="264.8" y="17.5" width="205.6" height="179.2" fill="none" stroke="#8a8a8a" stroke-width="1.1"/>
<rect x="478.1" y="17.5" width="205.3" height="179.2" fill="none" stroke="#8a8a8a" stroke-width="1.1"/>
<rect x="51.5" y="227.6" width="205.9" height="179.2" fill="none" stroke="#8a8a8a" stroke-width="1.1"/>
<rect x="264.8" y="227.6" width="205.6" height="179.2" fill="none" stroke="#8a8a8a" stroke-width="1.1"/>
<text x="367.7" y="443" text-anchor="middle" class="atitle">PCoA axis 1 [21.1%]</text>
<text transform="translate(10.8 211.8) rotate(-90)" text-anchor="middle" class="atitle">PCoA axis 2 [8.2%]</text>
<text x="517.3" y="247.3" class="ltitle">Setting</text>
<circle cx="526.2" cy="265.8" r="3.9" fill="none" stroke="#1a1a1a" stroke-width="1.1"/>
<path d="M526.2 277.6L531.5 286.3L520.9000000000001 286.3Z" fill="none" stroke="#1a1a1a" stroke-width="1.1" stroke-linejoin="round"/>
<text x="543" y="268.7" class="ltext">H<tspan class="sub" dy="3.1">2</tspan></text>
<text x="543" y="286.5" class="ltext">No H<tspan class="sub" dy="3.1">2</tspan></text>
<text x="517.3" y="332.4" class="ltitle">Sampling point</text>
<circle cx="526.2" cy="350.2" r="4.2" fill="#c8201c"/>
<circle cx="526.2" cy="368.2" r="4.2" fill="#f3c3bf"/>
<text x="543" y="354.8" class="ltext">In</text>
<text x="543" y="372.9" class="ltext">Out</text>
</svg>
</body></html>
